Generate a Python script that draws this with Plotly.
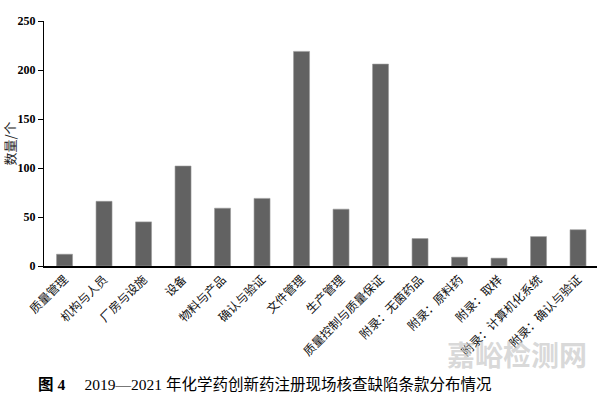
import plotly.graph_objects as go

categories = ["质量管理", "机构与人员", "厂房与设施", "设备", "物料与产品", "确认与验证",
              "文件管理", "生产管理", "质量控制与质量保证", "附录：无菌药品", "附录：原料药",
              "附录：取样", "附录：计算机化系统", "附录：确认与验证"]
counts = [12, 66, 45, 102, 59, 69, 219, 58, 206, 28, 9, 8, 30, 37]
y_ticks = [0, 50, 100, 150, 200, 250]

fig = go.Figure(go.Bar(
    x=list(range(len(categories))), y=counts, width=0.405,
    marker=dict(color="#626262", line=dict(color="#9a9a9a", width=0.6)),
))

fig.update_layout(
    width=600, height=399,
    margin=dict(l=44, r=3, t=20.5, b=133.3),
    plot_bgcolor="white", paper_bgcolor="white",
    showlegend=False,
    font=dict(family="Liberation Serif, Noto Sans CJK SC", color="black"),
    xaxis=dict(
        range=[-0.52, 13.48], tickmode="array",
        tickvals=list(range(len(categories))), ticktext=categories,
        tickangle=-45, tickfont=dict(size=12, family="Noto Sans CJK SC", color="#111"),
        showline=True, linecolor="black", linewidth=1.5, ticks="",
        showgrid=False, zeroline=False, automargin=False,
    ),
    yaxis=dict(
        range=[0, 250], tickmode="array", tickvals=y_ticks,
        ticktext=[f"<b>{v}</b>" for v in y_ticks],
        tickfont=dict(size=12, family="Liberation Serif"),
        showline=True, linecolor="black", linewidth=1.2,
        ticks="outside", ticklen=5, tickcolor="black",
        showgrid=False, zeroline=False, automargin=False,
        title=dict(text="数量/个", font=dict(size=13, family="Noto Sans CJK SC", color="#222"),
                   standoff=6),
    ),
    annotations=[
        dict(text="<b>图 4</b>　 2019—2021 年化学药创新药注册现场核查缺陷条款分布情况",
             xref="paper", yref="paper", x=-0.0145, y=-0.483,
             xanchor="left", yanchor="middle", showarrow=False,
             font=dict(size=15.5, family="Liberation Serif, Noto Sans CJK SC", color="black")),
        dict(text="<b>嘉峪检测网</b>", xref="paper", yref="paper",
             x=0.985, y=-0.36, xanchor="right", yanchor="middle", showarrow=False,
             font=dict(size=28, family="Noto Sans CJK SC", color="rgba(200,200,200,0.7)")),
    ],
)

fig.write_html("out.html", config={"displayModeBar": False},
               post_script="document.body.style.margin='0';")
